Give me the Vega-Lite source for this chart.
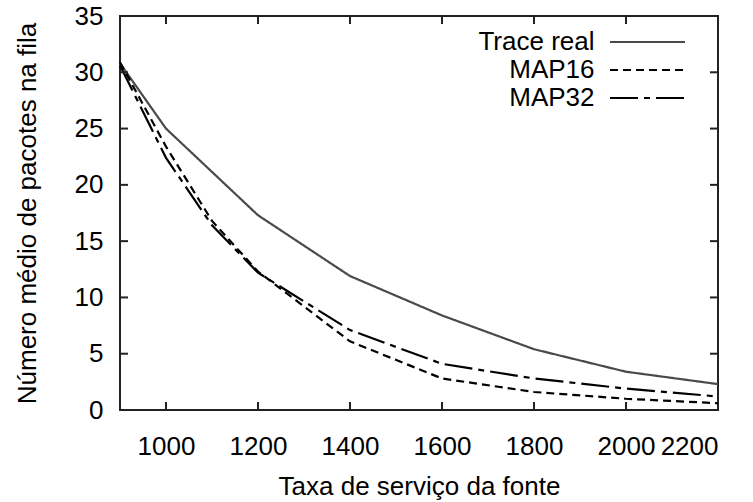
{
  "$schema": "https://vega.github.io/schema/vega-lite/v6.json",
  "width": 598,
  "height": 394,
  "autosize": {"type": "none"},
  "padding": {"left": 120, "top": 16, "right": 35, "bottom": 92},
  "background": "white",
  "config": {
    "font": "Liberation Sans",
    "view": {"stroke": "#222", "strokeWidth": 2},
    "axis": {"labelFont": "Liberation Sans", "titleFont": "Liberation Sans", "labelColor": "black", "titleColor": "black", "titleFontWeight": "normal", "labelFontSize": 26, "titleFontSize": 26, "grid": false, "domain": false, "ticks": false},
    "legend": {"orient": "none", "legendX": 514.5, "legendY": 13, "symbolType": "M-7.5,0H7.5", "symbolSize": 100, "symbolStrokeWidth": 2, "labelAlign": "right", "labelOffset": -66, "labelFontSize": 26, "labelFont": "Liberation Sans", "labelColor": "black", "rowPadding": 2, "padding": 0, "labelLimit": 400}
  },
  "datasets": {
    "curves": [
      {"x": 900, "y": 30.8, "s": "Trace real"},
      {"x": 1000, "y": 25.0, "s": "Trace real"},
      {"x": 1200, "y": 17.3, "s": "Trace real"},
      {"x": 1400, "y": 11.9, "s": "Trace real"},
      {"x": 1600, "y": 8.4, "s": "Trace real"},
      {"x": 1800, "y": 5.4, "s": "Trace real"},
      {"x": 2000, "y": 3.4, "s": "Trace real"},
      {"x": 2200, "y": 2.3, "s": "Trace real"},
      {"x": 900, "y": 30.9, "s": "MAP16"},
      {"x": 1000, "y": 23.4, "s": "MAP16"},
      {"x": 1100, "y": 16.8, "s": "MAP16"},
      {"x": 1200, "y": 12.3, "s": "MAP16"},
      {"x": 1400, "y": 6.1, "s": "MAP16"},
      {"x": 1600, "y": 2.8, "s": "MAP16"},
      {"x": 1800, "y": 1.6, "s": "MAP16"},
      {"x": 2000, "y": 1.0, "s": "MAP16"},
      {"x": 2200, "y": 0.6, "s": "MAP16"},
      {"x": 900, "y": 30.6, "s": "MAP32"},
      {"x": 1000, "y": 22.4, "s": "MAP32"},
      {"x": 1100, "y": 16.4, "s": "MAP32"},
      {"x": 1200, "y": 12.2, "s": "MAP32"},
      {"x": 1400, "y": 7.1, "s": "MAP32"},
      {"x": 1600, "y": 4.1, "s": "MAP32"},
      {"x": 1800, "y": 2.8, "s": "MAP32"},
      {"x": 2000, "y": 1.9, "s": "MAP32"},
      {"x": 2200, "y": 1.2, "s": "MAP32"}
    ],
    "xticks": [{"x": 1000}, {"x": 1200}, {"x": 1400}, {"x": 1600}, {"x": 1800}, {"x": 2000}],
    "yticks": [{"y": 5}, {"y": 10}, {"y": 15}, {"y": 20}, {"y": 25}, {"y": 30}]
  },
  "layer": [
    {
      "data": {"name": "curves"},
      "mark": {"type": "line", "strokeWidth": 2.2},
      "encoding": {
        "x": {"field": "x", "type": "quantitative", "scale": {"domain": [900, 2200], "nice": false, "zero": false},
              "axis": {"orient": "bottom", "title": "Taxa de serviço da fonte", "values": [1000, 1200, 1400, 1600, 1800, 2000, 2200], "ticks": false, "labelPadding": 23, "titlePadding": 14, "format": "d"}},
        "y": {"field": "y", "type": "quantitative", "scale": {"domain": [0, 35], "nice": false},
              "axis": {"orient": "left", "title": "Número médio de pacotes na fila", "values": [0, 5, 10, 15, 20, 25, 30, 35], "ticks": false, "labelPadding": 17, "titlePadding": 34}},
        "color": {"field": "s", "type": "nominal", "sort": ["Trace real", "MAP16", "MAP32"],
                  "scale": {"domain": ["Trace real", "MAP16", "MAP32"], "range": ["#4a4a4a", "#000000", "#000000"]},
                  "legend": {"title": null}},
        "strokeDash": {"field": "s", "type": "nominal", "sort": ["Trace real", "MAP16", "MAP32"],
                  "scale": {"domain": ["Trace real", "MAP16", "MAP32"], "range": [[1, 0], [8, 5], [28, 6, 6, 6]]},
                  "legend": {"title": null}}
      }
    },
    {
      "data": {"name": "xticks"},
      "mark": {"type": "rule", "color": "#222", "strokeWidth": 2, "y2Offset": -8},
      "encoding": {"x": {"field": "x", "type": "quantitative"}, "y": {"datum": 0, "type": "quantitative"}, "y2": {"datum": 0}}
    },
    {
      "data": {"name": "xticks"},
      "mark": {"type": "rule", "color": "#222", "strokeWidth": 2, "y2Offset": 8},
      "encoding": {"x": {"field": "x", "type": "quantitative"}, "y": {"datum": 35, "type": "quantitative"}, "y2": {"datum": 35}}
    },
    {
      "data": {"name": "yticks"},
      "mark": {"type": "rule", "color": "#222", "strokeWidth": 2, "x2Offset": 8},
      "encoding": {"y": {"field": "y", "type": "quantitative"}, "x": {"datum": 900, "type": "quantitative"}, "x2": {"datum": 900}}
    },
    {
      "data": {"name": "yticks"},
      "mark": {"type": "rule", "color": "#222", "strokeWidth": 2, "x2Offset": -8},
      "encoding": {"y": {"field": "y", "type": "quantitative"}, "x": {"datum": 2200, "type": "quantitative"}, "x2": {"datum": 2200}}
    }
  ]
}
